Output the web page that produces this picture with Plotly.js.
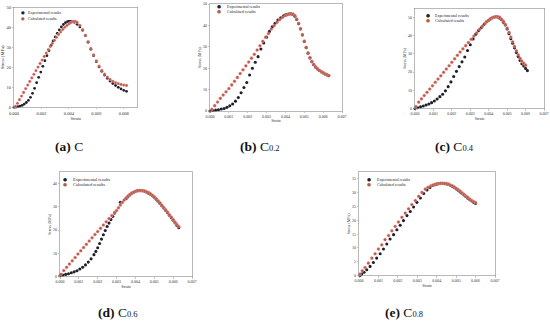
<!DOCTYPE html>
<html><head><meta charset="utf-8">
<script src="https://cdn.plot.ly/plotly-3.0.1.min.js"></script>
<style>html,body{margin:0;padding:0;background:#fff}#chart{width:550px;height:322px}</style>
</head><body><div id="chart"></div>
<script>
// ---------- (a) C ----------
const aStrainExp=[0,0.00015,0.0003,0.00045,0.0006,0.00075,0.0009,0.00105,0.0012,0.00135,0.0015,0.00165,0.0018,0.00195,0.0021,0.00225,0.0024,0.00255,0.0027,0.00285,0.003,0.00315,0.0033,0.00345,0.0036,0.00375,0.0039,0.004,0.0041,0.0042,0.0044,0.0046,0.0048,0.005,0.0052,0.0054,0.0056,0.0058,0.006,0.0062,0.0064,0.0066,0.0068,0.007,0.0072,0.0074,0.0076,0.0078,0.008,0.0082];
const aStressExp=[0,0.1,0.3,0.6,1.0,1.6,2.4,3.5,5.0,7.0,9.5,12.3,15.0,17.6,20.5,23.3,25.8,28.3,31.0,33.2,35.2,37.0,38.7,40.2,41.4,42.3,42.8,43.0,43.0,42.9,42.5,41.5,40.2,38.5,35.8,32.5,29.0,25.8,22.8,20.2,18.0,16.1,14.5,13.1,11.9,10.9,10.0,9.2,8.5,8.0];
const aStrainCal=[0.0001,0.00025,0.0004,0.00055,0.0007,0.00085,0.001,0.00115,0.0013,0.00145,0.0016,0.00175,0.0019,0.00205,0.0022,0.00235,0.0025,0.00265,0.0028,0.00295,0.0031,0.00325,0.0034,0.00355,0.0037,0.00385,0.004,0.0041,0.0042,0.0043,0.0044,0.0045,0.0046,0.0048,0.005,0.0052,0.0054,0.0056,0.0058,0.006,0.0062,0.0064,0.0066,0.0068,0.007,0.0072,0.0074,0.0076,0.0078,0.008,0.0082];
const aStressCal=[0.5,2.0,3.8,5.6,7.4,9.3,11.1,12.9,14.7,16.5,18.3,20.1,21.9,23.6,25.4,27.1,28.8,30.4,32.0,33.5,35.0,36.4,37.7,38.9,40.0,40.9,41.7,42.2,42.6,42.8,42.9,42.8,42.5,41.0,38.8,36.0,32.8,29.4,26.2,23.2,20.6,18.4,16.6,15.1,13.9,13.0,12.3,11.8,11.4,11.1,10.9];
// ---------- (b) C0.2 ----------
const bStrainExp=[0,0.00015,0.0003,0.00045,0.0006,0.00075,0.0009,0.00105,0.0012,0.00135,0.0015,0.00165,0.0018,0.00195,0.0021,0.00225,0.0024,0.00255,0.0027,0.00285,0.003,0.00315,0.0033,0.00345,0.0036,0.00375,0.0039,0.004,0.0041,0.0042,0.0043,0.0044,0.0045,0.0046,0.0047,0.0048,0.0049,0.005,0.0051,0.0052,0.0053,0.0054,0.0055,0.0056,0.0057,0.0058,0.0059,0.006,0.0061,0.0062,0.0063];
const bStressExp=[0,0.2,0.4,0.6,0.9,1.2,1.7,2.4,3.3,4.6,6.3,8.5,11.0,13.3,16.8,20.0,22.8,25.4,29.0,31.8,34.5,37.2,39.3,41.0,42.5,43.6,44.5,44.9,45.2,45.4,45.4,45.1,44.3,42.8,40.8,38.3,35.5,32.5,29.6,27.0,24.8,23.0,21.6,20.5,19.6,18.9,18.3,17.8,17.3,16.9,16.5];
const bStrainCal=[0.0001,0.00025,0.0004,0.00055,0.0007,0.00085,0.001,0.00115,0.0013,0.00145,0.0016,0.00175,0.0019,0.00205,0.0022,0.00235,0.0025,0.00265,0.0028,0.00295,0.0031,0.00325,0.0034,0.00355,0.0037,0.00385,0.004,0.0041,0.0042,0.0043,0.0044,0.0045,0.0046,0.0047,0.0048,0.0049,0.005,0.0051,0.0052,0.0053,0.0054,0.0055,0.0056,0.0057,0.0058,0.0059,0.006,0.0061,0.0062,0.0063];
const bStressCal=[0.8,2.5,4.2,5.9,7.5,9.0,10.5,12.2,13.9,15.7,17.5,19.3,21.1,22.9,24.7,26.5,28.5,30.5,32.6,34.5,36.2,38.3,39.9,41.5,42.7,43.8,44.6,45.0,45.3,45.4,45.3,44.6,43.0,41.0,38.5,35.7,32.7,29.8,27.2,25.0,23.2,21.8,20.7,19.8,19.0,18.4,17.9,17.4,17.0,16.6];
// ---------- (c) C0.4 ----------
const cStrainExp=[0,0.00015,0.0003,0.00045,0.0006,0.00075,0.0009,0.00105,0.0012,0.00135,0.0015,0.00165,0.0018,0.00195,0.0021,0.00225,0.0024,0.00255,0.0027,0.00285,0.003,0.00315,0.0033,0.00345,0.0036,0.00375,0.0039,0.004,0.0041,0.0042,0.0043,0.0044,0.0045,0.0046,0.0047,0.0048,0.0049,0.005,0.0051,0.0052,0.0053,0.0054,0.0055,0.0056,0.0057,0.0058,0.0059,0.006,0.0061];
const cStressExp=[0,0.4,0.9,1.4,1.9,2.5,3.2,4.1,5.2,6.5,7.8,9.7,12.0,14.6,17.6,20.4,23.0,25.6,28.3,31.8,35.0,38.2,40.8,42.8,44.5,46.2,47.7,48.4,49.2,49.8,50.2,50.4,50.2,49.6,48.7,47.3,45.8,43.7,41.0,38.3,35.8,33.3,30.8,28.5,26.4,24.6,23.3,22.0,20.8];
const cStrainCal=[0.00005,0.0002,0.00035,0.0005,0.00065,0.0008,0.00095,0.0011,0.00125,0.0014,0.00155,0.0017,0.00185,0.002,0.00215,0.0023,0.00245,0.0026,0.00275,0.0029,0.00305,0.0032,0.00335,0.0035,0.00365,0.0038,0.0039,0.004,0.0041,0.0042,0.0043,0.0044,0.0045,0.0046,0.0047,0.0048,0.0049,0.005,0.0051,0.0052,0.0053,0.0054,0.0055,0.0056,0.0057,0.0058,0.0059,0.006];
const cStressCal=[1.1,3.5,5.3,7.1,8.9,10.7,12.5,14.4,16.2,18.0,19.9,21.7,23.5,25.4,27.3,29.2,31.0,32.8,34.5,36.2,38.0,39.8,41.6,43.5,45.1,46.7,47.7,48.5,49.2,49.8,50.2,50.4,50.3,50.0,49.0,47.8,46.2,44.2,41.8,39.2,36.6,34.1,31.7,29.5,27.6,26.0,24.8,23.8];
// ---------- (d) C0.6 ----------
const dStrainExp=[0,0.00015,0.0003,0.00045,0.0006,0.00075,0.0009,0.00105,0.0012,0.00135,0.0015,0.00165,0.0018,0.0019,0.002,0.0021,0.0022,0.0023,0.0024,0.0025,0.0026,0.0027,0.0028,0.0029,0.0032,0.0035,0.0036,0.0037,0.0038,0.0039,0.004,0.0041,0.0042,0.0043,0.0044,0.0045,0.0046,0.0047,0.0048,0.0049,0.005,0.0051,0.0052,0.0053,0.0054,0.0055,0.0056,0.0057,0.0058,0.0059,0.006,0.0061,0.0062,0.0063];
const dStressExp=[0.3,0.6,0.9,1.2,1.6,2.0,2.5,3.2,4.0,5.0,6.2,7.6,9.4,10.8,12.4,14.2,16.1,18.0,19.8,21.5,23.0,24.5,25.9,27.3,32.0,33.5,34.3,35.1,35.8,36.3,36.7,36.9,37.0,37.0,36.9,36.7,36.3,35.9,35.4,34.8,34.1,33.3,32.4,31.5,30.5,29.5,28.5,27.5,26.4,25.3,24.2,23.1,22.0,21.0];
const dStrainCal=[0.00005,0.0002,0.00035,0.0005,0.00065,0.0008,0.00095,0.0011,0.00125,0.0014,0.00155,0.0017,0.00185,0.002,0.00215,0.0023,0.00245,0.0026,0.00275,0.0029,0.003,0.0031,0.0032,0.0033,0.0034,0.0035,0.0036,0.0037,0.0038,0.0039,0.004,0.0041,0.0042,0.0043,0.0044,0.0045,0.0046,0.0047,0.0048,0.0049,0.005,0.0051,0.0052,0.0053,0.0054,0.0055,0.0056,0.0057,0.0058,0.0059,0.006,0.0061,0.0062,0.0063];
const dStressCal=[1.0,2.6,4.0,5.4,6.8,8.2,9.7,11.1,12.5,13.9,15.3,16.7,18.1,19.4,20.8,22.2,23.6,25.0,26.3,27.6,28.4,29.6,30.8,31.9,32.9,33.8,34.6,35.3,35.9,36.3,36.6,36.9,37.0,37.0,36.9,36.8,36.5,36.1,35.6,35.0,34.3,33.5,32.6,31.7,30.7,29.7,28.7,27.7,26.6,25.6,24.5,23.4,22.4,21.5];
// ---------- (e) C0.8 ----------
const eStrainExp=[0.00005,0.00014,0.00026,0.0004,0.00057,0.00074,0.00091,0.00109,0.00126,0.00143,0.0016,0.00178,0.00195,0.00212,0.00229,0.00247,0.00264,0.00281,0.00298,0.00316,0.00333,0.0035,0.00365,0.0038,0.0039,0.004,0.0041,0.0042,0.0043,0.0044,0.0045,0.0046,0.0047,0.0048,0.0049,0.005,0.0051,0.0052,0.0053,0.0054,0.0055,0.0056,0.0057,0.0058,0.0059,0.006];
const eStressExp=[0,0.5,1.2,2.1,3.3,4.7,6.3,7.9,9.6,11.4,13.2,14.8,16.6,18.2,19.9,21.7,23.2,24.8,26.5,28.1,29.7,31.0,31.9,32.6,32.9,33.1,33.3,33.4,33.4,33.3,33.2,33.0,32.7,32.3,31.9,31.4,30.9,30.3,29.8,29.2,28.6,28.0,27.5,27.0,26.5,26.1];
const eStrainCal=[0.00005,0.00017,0.00031,0.00048,0.00066,0.00083,0.001,0.00117,0.00134,0.00152,0.00169,0.00186,0.00203,0.00221,0.00238,0.00255,0.00272,0.0029,0.00307,0.00324,0.00341,0.00355,0.0037,0.0038,0.0039,0.004,0.0041,0.0042,0.0043,0.0044,0.0045,0.0046,0.0047,0.0048,0.0049,0.005,0.0051,0.0052,0.0053,0.0054,0.0055,0.0056,0.0057,0.0058,0.0059,0.006];
const eStressCal=[0.5,1.7,2.9,4.5,6.3,7.9,9.6,11.1,13.0,14.5,16.2,17.8,19.4,21.1,22.6,24.2,25.7,27.2,28.7,30.1,31.3,32.0,32.5,32.8,33.0,33.2,33.3,33.4,33.4,33.4,33.3,33.1,32.8,32.5,32.1,31.6,31.1,30.6,30.0,29.4,28.8,28.3,27.7,27.2,26.8,26.4];

const seriesNames=['Experimental results','Calculated results'];
const captionLetters=['(a)','(b)','(c)','(d)','(e)'];
const captionSubs=['','0.2','0.4','0.6','0.8'];

const W=550,H=322;
const px=v=>v/W, py=v=>1-v/H;
const SERIF='"Liberation Serif", "Times New Roman", serif';
const EXP_COL='#20202c', CAL_COL='#b5603c';

const panels=[
 {l:14,r:137.5,t:7.3,b:107.3, xr:[0,0.009],xd:0.002, yr:[0,50],yd:10, tf:4.5, lf:4, d:[aStrainExp,aStressExp,aStrainCal,aStressCal], leg:[22.7,12.7,18.3,26], cap:[68.5,146.7], ms:2.8},
 {l:210,r:342,t:4,b:111, xr:[0,0.007],xd:0.001, yr:[0,50],yd:10, tf:4, lf:4, d:[bStrainExp,bStressExp,bStrainCal,bStressCal], leg:[219.3,6,11,225], cap:[260.3,146.7], ms:3.1},
 {l:415,r:544,t:8.3,b:108.5, xr:[0,0.007],xd:0.001, yr:[0,55],yd:10, tf:4, lf:4.1, d:[cStrainExp,cStressExp,cStrainCal,cStressCal], leg:[427.7,15,20,433], cap:[454,146.7], ms:3.1},
 {l:60,r:192,t:172,b:276.5, xr:[0,0.007],xd:0.001, yr:[0,45],yd:10, tf:4, lf:4.5, d:[dStrainExp,dStressExp,dStrainCal,dStressCal], leg:[65,179.3,184.3,70.7], cap:[117.5,312.7], ms:3.1},
 {l:359,r:495,t:172,b:275.5, xr:[0,0.007],xd:0.001, yr:[0,37.5],yd:5, tf:4, lf:4, d:[eStrainExp,eStressExp,eStrainCal,eStressCal], leg:[369.3,179.3,184.3,375], cap:[404,312.7], ms:3.1}
];

const traces=[], layout={width:W,height:H,margin:{l:0,r:0,t:0,b:0},paper_bgcolor:'#fff',plot_bgcolor:'#fff',showlegend:false,annotations:[]};

panels.forEach((p,i)=>{
  const k=i===0?'':String(i+1);
  const xa='x'+k, ya='y'+k;
  traces.push({type:'scatter',mode:'markers',x:p.d[0],y:p.d[1],xaxis:xa,yaxis:ya,name:seriesNames[0],
    marker:{color:EXP_COL,size:p.ms}, cliponaxis:false});
  traces.push({type:'scatter',mode:'markers',x:p.d[2],y:p.d[3],xaxis:xa,yaxis:ya,name:seriesNames[1],
    marker:{color:CAL_COL,size:p.ms,line:{color:'rgba(255,150,195,0.5)',width:0.7}}, cliponaxis:false});
  const axCommon={showline:true,mirror:true,linecolor:'#8a8a8a',linewidth:0.6,showgrid:false,zeroline:false,
    ticks:'outside',ticklen:1.5,tickwidth:0.5,tickcolor:'#8a8a8a',tickfont:{family:SERIF,size:p.tf,color:'#333'}};
  layout['xaxis'+k]=Object.assign({},axCommon,{domain:[px(p.l),px(p.r)],anchor:ya,range:p.xr,dtick:p.xd,tick0:0,tickformat:'.3f',
    title:{text:'Strain',font:{family:SERIF,size:p.tf,color:'#333'},standoff:1}});
  layout['yaxis'+k]=Object.assign({},axCommon,{domain:[py(p.b),py(p.t)],anchor:xa,range:p.yr,dtick:p.yd,tick0:0,
    title:{text:'Stress (MPa)',font:{family:SERIF,size:p.tf,color:'#333'},standoff:1}});
  // legend (drawn as annotations to match the tight original layout)
  const [mx,my1,my2,tx]=p.leg;
  [[my1,EXP_COL,seriesNames[0]],[my2,CAL_COL,seriesNames[1]]].forEach(([my,col,nm])=>{
    layout.annotations.push({xref:'paper',yref:'paper',x:px(mx),y:py(my),xanchor:'center',yanchor:'middle',showarrow:false,
      text:'●',font:{family:'DejaVu Sans',size:p.ms*1.5,color:col}});
    layout.annotations.push({xref:'paper',yref:'paper',x:px(tx),y:py(my),xanchor:'left',yanchor:'middle',showarrow:false,
      text:nm,font:{family:SERIF,size:p.lf,color:'#222'}});
  });
  // caption
  const sub=captionSubs[i]?'<span style="font-size:8.5px;color:#111111">'+captionSubs[i]+'</span>':'';
  layout.annotations.push({xref:'paper',yref:'paper',x:px(p.cap[0]),y:py(p.cap[1]),xanchor:'center',yanchor:'middle',showarrow:false,
    text:'<b>'+captionLetters[i]+'</b> <span style="color:#111111">C</span>'+sub,font:{family:SERIF,size:13.5,color:'#111111'}});
});

Plotly.newPlot('chart',traces,layout,{staticPlot:true,displayModeBar:false});
</script></body></html>
